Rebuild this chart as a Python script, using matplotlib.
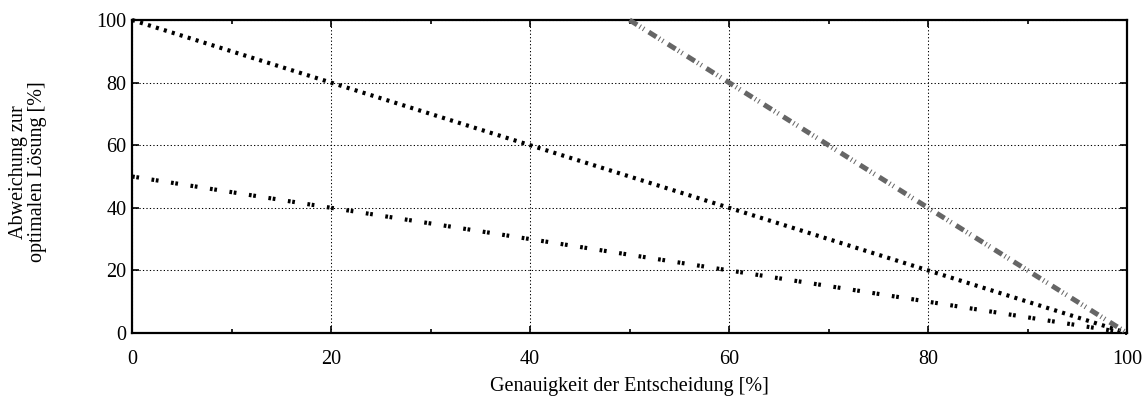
import matplotlib
matplotlib.use("Agg")
import matplotlib.pyplot as plt
from matplotlib.ticker import MultipleLocator

# data
x_full = [0, 100]
y_line1 = [100, 0]
y_line2 = [50, 0]
x_half = [50, 100]
y_line3 = [100, 0]

xticks = [0, 20, 40, 60, 80, 100]
yticks = [0, 20, 40, 60, 80, 100]

plt.rcParams['font.family'] = ['Liberation Serif', 'DejaVu Serif']
plt.rcParams['lines.scale_dashes'] = False

fig = plt.figure(figsize=(11.47, 4.03), dpi=100)
ax = fig.add_axes([0.1151, 0.1737, 0.8675, 0.7767])

ax.plot(x_full, y_line1, color='black', lw=3.0, dashes=(2.2, 3.8),
        dash_capstyle='butt', clip_on=False, zorder=3)
ax.plot(x_full, y_line2, color='black', lw=3.0, dashes=(1.95, 1.2, 1.95, 9.1),
        dash_capstyle='butt', clip_on=False, zorder=3)
ax.plot(x_half, y_line3, color='#666666', lw=3.6,
        dashes=(6.5, 2.2, 0.72, 2.2, 0.72, 4.0),
        dash_capstyle='butt', clip_on=False, zorder=3)

ax.set_xlim(0, 100)
ax.set_ylim(0, 100)
ax.set_xticks(xticks)
ax.set_yticks(yticks)
ax.xaxis.set_minor_locator(MultipleLocator(10))

ax.grid(True, which='major', color='black', lw=0.75, linestyle=(0, (0.9, 1.6)))
ax.set_axisbelow(True)

ax.tick_params(axis='both', which='major', direction='in', length=5, width=1.2,
               top=True, right=True, labelsize=14.5)
ax.tick_params(axis='x', which='major', pad=12)
ax.tick_params(axis='y', which='major', pad=4)
ax.tick_params(axis='x', which='minor', direction='in', length=3, width=1.2,
               top=True)

for s in ax.spines.values():
    s.set_linewidth(1.6)

ax.set_xlabel('Genauigkeit der Entscheidung [%]', fontsize=14.5)
ax.xaxis.set_label_coords(0.5, -0.14)
fig.text(28 / 1147, 0.573, 'Abweichung zur\noptimalen Lösung [%]',
         fontsize=14.5, rotation=90, ha='center', va='center',
         multialignment='center', linespacing=1.0)

fig.savefig('out.png', dpi=100)
